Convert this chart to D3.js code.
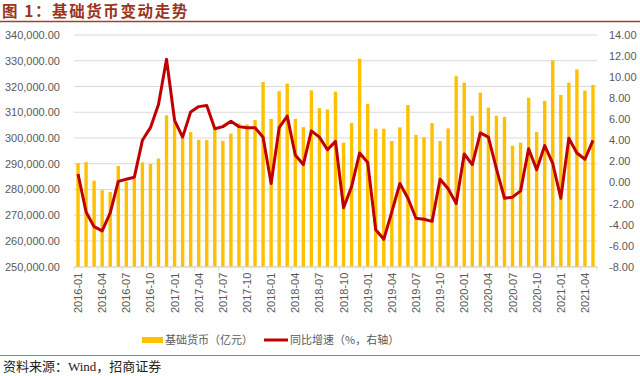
<!DOCTYPE html>
<html><head><meta charset="utf-8">
<script src="https://cdn.jsdelivr.net/npm/d3@7/dist/d3.min.js"></script>
<style>body{margin:0;background:#fff}svg{display:block}</style>
</head><body>
<svg id="c" width="640" height="376"></svg>
<script>
const months = [
"2016-01","2016-02","2016-03","2016-04","2016-05","2016-06","2016-07","2016-08","2016-09","2016-10","2016-11","2016-12",
"2017-01","2017-02","2017-03","2017-04","2017-05","2017-06","2017-07","2017-08","2017-09","2017-10","2017-11","2017-12",
"2018-01","2018-02","2018-03","2018-04","2018-05","2018-06","2018-07","2018-08","2018-09","2018-10","2018-11","2018-12",
"2019-01","2019-02","2019-03","2019-04","2019-05","2019-06","2019-07","2019-08","2019-09","2019-10","2019-11","2019-12",
"2020-01","2020-02","2020-03","2020-04","2020-05","2020-06","2020-07","2020-08","2020-09","2020-10","2020-11","2020-12",
"2021-01","2021-02","2021-03","2021-04","2021-05"];
const baseMoney = [
290200,290600,283400,279700,279000,289100,283000,284200,290500,289900,292000,308800,
306300,300000,302300,299300,299200,303100,298900,301700,305700,305300,307000,321700,
307400,318200,321100,307400,304200,318500,311600,311100,318000,298200,305800,330800,
313200,303600,303600,298800,304100,312800,301200,300300,305800,298800,303700,324000,
321500,308600,317600,311800,308600,308200,297000,298200,315600,302300,314400,330200,
316700,321500,326600,318400,320600];
const yoyGrowth = [
0.8,-2.8,-4.2,-4.6,-2.9,0.1,0.3,0.5,4.0,5.2,7.4,11.7,
5.9,4.3,6.7,7.2,7.3,5.1,5.3,5.8,5.3,5.2,5.2,4.3,
-0.1,5.2,6.3,2.6,1.7,4.9,4.3,3.1,3.9,-2.4,-0.4,2.8,
1.9,-4.5,-5.4,-2.8,-0.1,-1.5,-3.4,-3.5,-3.7,0.3,-0.6,-2.0,
2.7,1.7,4.7,4.3,1.3,-1.5,-1.4,-0.8,3.2,1.2,3.5,1.8,
-1.5,4.2,2.8,2.2,4.0];
const xTickLabels = months.filter((m,i)=>i%3===0);
const leftTicks = [250000,260000,270000,280000,290000,300000,310000,320000,330000,340000];
const rightTicks = [-8,-6,-4,-2,0,2,4,6,8,10,12,14];
const seriesNames = ["基础货币（亿元）","同比增速（%，右轴）"];
const titleText = "图 1：基础货币变动走势";
const sourceText = "资料来源：Wind，招商证券";

const svg = d3.select("#c");
const pTop = 35, pBottom = 266.7, pLeft = 74, pRight = 597;
const x = d3.scaleBand().domain(months).range([pLeft, pRight]).padding(0);
const yL = d3.scaleLinear().domain([250000, 340000]).range([pBottom, pTop]);
const yR = d3.scaleLinear().domain([-8, 14]).range([pBottom, pTop]);
const axisFont = "'Liberation Sans', Arial, sans-serif";
const gray = "#595959";

// title
svg.append("text").attr("x", 2).attr("y", 17)
  .attr("font-family", "'Noto Sans CJK SC', sans-serif").attr("font-weight", "bold")
  .attr("font-size", 15.5).attr("letter-spacing", 1.6).attr("fill", "#9B341C").text(titleText);
svg.append("line").attr("x1",0).attr("x2",640).attr("y1",21.5).attr("y2",21.5)
  .attr("stroke","#A0412D").attr("stroke-width",1.5);

// gridlines
svg.append("g").selectAll("line").data(leftTicks).join("line")
  .attr("x1", pLeft).attr("x2", pRight)
  .attr("y1", d => yL(d)).attr("y2", d => yL(d))
  .attr("stroke", "#D9D9D9").attr("stroke-width", 1);

// left axis
const gL = svg.append("g").attr("transform", `translate(${pLeft},0)`)
  .call(d3.axisLeft(yL).tickValues(leftTicks).tickFormat(d3.format(",.2f")).tickSize(0).tickPadding(14));
gL.select(".domain").remove();
gL.selectAll("text").attr("font-family", axisFont).attr("font-size", 11).attr("fill", gray);

// right axis
const gR = svg.append("g").attr("transform", `translate(${pRight},0)`)
  .call(d3.axisRight(yR).tickValues(rightTicks).tickFormat(d => d3.format(".2f")(d).replace("−","-")).tickSize(0).tickPadding(12));
gR.select(".domain").remove();
gR.selectAll("text").attr("font-family", axisFont).attr("font-size", 11).attr("fill", gray);

// bars
const bw = 3.4;
svg.append("g").selectAll("rect").data(baseMoney).join("rect")
  .attr("x", (d,i) => x(months[i]) + x.bandwidth()/2 - bw/2)
  .attr("width", bw)
  .attr("y", d => yL(d))
  .attr("height", d => pBottom - yL(d))
  .attr("fill", "#FFC000");

// x axis
const gX = svg.append("g").attr("transform", `translate(0,${pBottom})`)
  .call(d3.axisBottom(x).tickValues(xTickLabels).tickSize(0).tickFormat(""));
gX.select(".domain").attr("stroke", "#D9D9D9").attr("stroke-width", 1);
gX.selectAll(".tick").remove();
const tickPos = xTickLabels.map(m => x(m)).concat([pRight]);
svg.append("g").selectAll("line").data(tickPos).join("line")
  .attr("x1", d => d).attr("x2", d => d).attr("y1", pBottom).attr("y2", pBottom + 4)
  .attr("stroke", "#D9D9D9").attr("stroke-width", 1);
svg.append("g").selectAll("text").data(xTickLabels).join("text")
  .attr("transform", d => `translate(${x(d) + x.bandwidth()/2 + 4},${pBottom + 6}) rotate(-90)`)
  .attr("text-anchor", "end")
  .attr("font-family", axisFont).attr("font-size", 11).attr("fill", gray)
  .text(d => d);

// line
const line = d3.line().x((d,i) => x(months[i]) + x.bandwidth()/2).y(d => yR(d));
svg.append("path").datum(yoyGrowth).attr("d", line)
  .attr("fill", "none").attr("stroke", "#C00000").attr("stroke-width", 3)
  .attr("stroke-linejoin", "round");

// legend
const lg = svg.append("g").attr("font-family", "'Noto Sans CJK SC', sans-serif").attr("font-size", 11).attr("fill", gray);
lg.append("rect").attr("x", 142).attr("y", 337).attr("width", 21).attr("height", 6).attr("fill", "#FFC000");
lg.append("text").attr("x", 165).attr("y", 344).text(seriesNames[0]);
lg.append("line").attr("x1", 264).attr("x2", 288).attr("y1", 340).attr("y2", 340)
  .attr("stroke", "#C00000").attr("stroke-width", 3);
lg.append("text").attr("x", 290).attr("y", 344).text(seriesNames[1]);

// bottom rule and source
svg.append("line").attr("x1",0).attr("x2",640).attr("y1",355.5).attr("y2",355.5)
  .attr("stroke","#D06A5E").attr("stroke-width",1);
svg.append("text").attr("x", 3).attr("y", 371)
  .attr("font-family", "'Liberation Serif', 'Noto Sans CJK SC', serif")
  .attr("font-size", 13).attr("fill", "#222").text(sourceText);
</script>
</body></html>
